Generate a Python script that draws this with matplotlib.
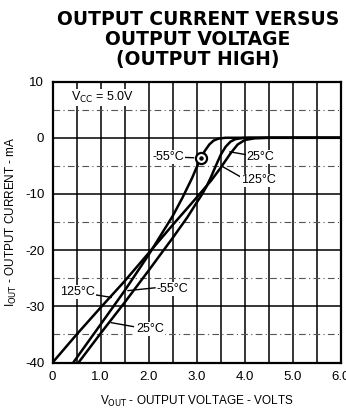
import matplotlib
matplotlib.use("Agg")
import matplotlib.pyplot as plt
import numpy as np

# curve data (V_OUT in volts, I_OUT in mA)
v_125 = [0.0, 0.5, 1.0, 1.5, 2.0, 2.5, 3.0, 3.3, 3.5, 3.7, 3.85, 4.0, 4.2, 4.5, 6.0]
i_125 = [-40, -35, -30.2, -25.5, -20.5, -15.5, -10.6, -7.6, -5.3, -2.8, -1.2, -0.4, -0.1, 0, 0]

v_25 = [0.54, 1.0, 1.5, 2.0, 2.5, 2.8, 3.0, 3.1, 3.2, 3.3, 3.4, 3.5, 3.6, 3.7, 3.8, 3.95, 4.1, 6.0]
i_25 = [-40, -34.8, -29.3, -23.6, -17.8, -14.2, -11.5, -10.2, -8.7, -6.9, -4.9, -3.0, -1.6, -0.7, -0.25, -0.05, 0, 0]

v_m55 = [0.43, 1.0, 1.5, 2.0, 2.5, 2.7, 2.9, 3.08, 3.17, 3.26, 3.35, 3.45, 3.6, 6.0]
i_m55 = [-40, -33.2, -27.2, -20.8, -13.9, -10.7, -7.2, -3.6, -2.3, -1.2, -0.5, -0.15, 0, 0]

marker_pt = (3.08, -3.6)

x_ticks = [0, 1, 2, 3, 4, 5, 6]
x_labels = ["0", "1.0", "2.0", "3.0", "4.0", "5.0", "6.0"]
y_ticks = [10, 0, -10, -20, -30, -40]
y_labels = ["10", "0", "-10", "-20", "-30", "-40"]

small = "Liberation Sans"

fig = plt.figure(figsize=(3.46, 4.12), dpi=100)
ax = fig.add_axes([0.152, 0.120, 0.8335, 0.682])

ax.set_xlim(0, 6)
ax.set_ylim(-40, 10)

# grid: every 0.5 V, solid every 10 mA, dashed at the 5 mA marks
for xv in np.arange(0.5, 6.0, 0.5):
    ax.axvline(xv, color="black", lw=1.1, zorder=1)
for yv in [0, -10, -20, -30]:
    ax.axhline(yv, color="black", lw=1.1, zorder=1)
for yv in [5, -5, -15, -25, -35]:
    ax.axhline(yv, color="#555555", lw=0.8, ls=(0, (6, 3, 1, 3)), zorder=1)

for v, i in [(v_125, i_125), (v_25, i_25), (v_m55, i_m55)]:
    ax.plot(v, i, color="black", lw=1.8, zorder=3, solid_capstyle="butt")

ax.plot(*marker_pt, marker="o", ms=8, mfc="white", mec="black", mew=1.6, zorder=4)
ax.plot(*marker_pt, marker="o", ms=2.2, color="black", zorder=5)

box = dict(facecolor="white", edgecolor="none", pad=0.6)
lab = dict(fontsize=9, color="black", zorder=6, family=small, bbox=box)
ax.text(0.38, 7.2, r"V$_{\mathrm{CC}}$ = 5.0V", va="center", ha="left", **lab)

# upper labels
ax.text(2.74, -3.4, "-55°C", ha="right", va="center", **lab)
ax.plot([2.76, 2.93], [-3.5, -3.55], color="black", lw=1.0)
ax.text(4.04, -3.4, "25°C", ha="left", va="center", **lab)
ax.plot([4.02, 3.69], [-3.0, -2.5], color="black", lw=1.0)
ax.text(3.92, -7.6, "125°C", ha="left", va="center", **lab)
ax.plot([3.90, 3.53], [-6.9, -5.1], color="black", lw=1.0)

# lower labels
ax.text(0.15, -27.5, "125°C", ha="left", va="center", **lab)
ax.plot([0.78, 1.22], [-27.8, -28.4], color="black", lw=1.0)
ax.text(2.16, -26.9, "-55°C", ha="left", va="center", **lab)
ax.plot([2.13, 1.57], [-26.7, -27.2], color="black", lw=1.0)
ax.text(1.74, -34.0, "25°C", ha="left", va="center", **lab)
ax.plot([1.68, 1.22], [-33.6, -32.9], color="black", lw=1.0)

ax.set_xticks(x_ticks)
ax.set_xticklabels(x_labels, family=small)
ax.set_yticks(y_ticks)
ax.set_yticklabels(y_labels, family=small)
ax.tick_params(length=0, labelsize=9.5, pad=6)
for s in ax.spines.values():
    s.set_linewidth(1.6)

ax.set_xlabel(r"V$_{\mathrm{OUT}}$ - OUTPUT VOLTAGE - VOLTS", fontsize=8.5, labelpad=8, family=small)
ax.set_ylabel(r"I$_{\mathrm{OUT}}$ - OUTPUT CURRENT - mA", fontsize=8.5, labelpad=4, family=small)

fig.text(0.572, 0.975, "OUTPUT CURRENT VERSUS\nOUTPUT VOLTAGE\n(OUTPUT HIGH)",
         ha="center", va="top", fontsize=13.5, fontweight="bold", linespacing=1.05)

fig.savefig("out.png", dpi=100)
